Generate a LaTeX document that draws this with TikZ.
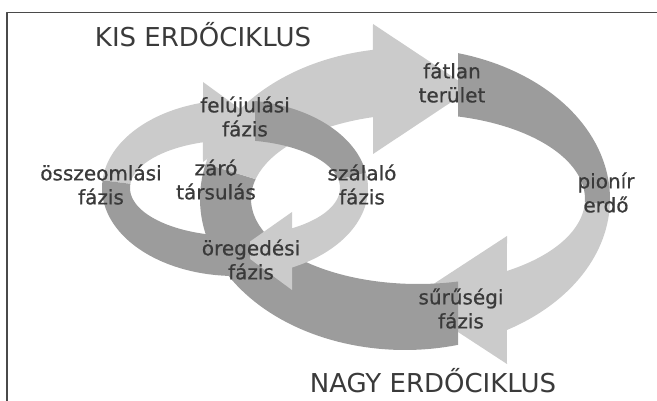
\documentclass[tikz,border=0pt]{standalone}
\usepackage{fontspec}
\setmainfont{DejaVu Sans}
\newfontfamily\phasefont{DejaVu Sans}[FakeBold=0.7]
\definecolor{arclight}{HTML}{CBCBCB}
\definecolor{arcdark}{HTML}{9C9C9C}
\definecolor{labeltext}{HTML}{3A3A3A}
\definecolor{framegray}{HTML}{4A4A4A}

\begin{document}
\begin{tikzpicture}[x=1pt,y=-1pt,line join=round,
  lightarc/.style={fill=arclight},
  darkarc/.style={fill=arcdark},
  phase/.style={align=center,text=labeltext,font=\phasefont\fontsize{20}{24}\selectfont},
  cycletitle/.style={anchor=base,text=labeltext,font=\fontsize{26}{30}\selectfont}]
\useasboundingbox (0,0) rectangle (657,401);
\draw[framegray,line width=1.3pt] (7,401) -- (7,12.5) -- (657,12.5);
\fill[lightarc] plot[domain=362:420.2,samples=40] ({405+205*cos(\x)},{199+151*sin(\x)}) -- (507,364) -- (409,300) -- (507,236) -- plot[domain=417.8:362,samples=40] ({418+167*cos(\x)},{199+85*sin(\x)}) -- cycle;
\fill[darkarc] plot[domain=75:193.5,samples=60] ({405+205*cos(\x)},{199+151*sin(\x)}) -- plot[domain=193.5:76.14,samples=60] ({418+167*cos(\x)},{199+85*sin(\x)}) -- cycle;
\fill[lightarc] plot[domain=193.5:261,samples=40] ({405+205*cos(\x)},{199+151*sin(\x)}) -- (373,24) -- (471,89) -- (373,154) -- plot[domain=254.37:193.5,samples=40] ({418+167*cos(\x)},{199+85*sin(\x)}) -- cycle;
\fill[darkarc] plot[domain=285:362,samples=40] ({405+205*cos(\x)},{199+151*sin(\x)}) -- plot[domain=362:283.86,samples=40] ({418+167*cos(\x)},{199+85*sin(\x)}) -- cycle;
\fill[lightarc] plot[domain=185:256.1,samples=40] ({235+133*cos(\x)},{188+88*sin(\x)}) -- (203,82) -- (258,122) -- (203,162) -- plot[domain=252.25:185,samples=40] ({235+105*cos(\x)},{188+48*sin(\x)}) -- cycle;
\fill[darkarc] plot[domain=278.65:350,samples=40] ({235+133*cos(\x)},{188+88*sin(\x)}) -- plot[domain=350:281,samples=40] ({235+105*cos(\x)},{188+48*sin(\x)}) -- cycle;
\fill[lightarc] plot[domain=350:424.6,samples=40] ({235+133*cos(\x)},{188+88*sin(\x)}) -- (292,290) -- (238,250) -- (292,212) -- plot[domain=417.1:350,samples=40] ({235+105*cos(\x)},{188+48*sin(\x)}) -- cycle;
\fill[darkarc] plot[domain=83.5:185,samples=40] ({235+133*cos(\x)},{188+88*sin(\x)}) -- plot[domain=185:81.8,samples=40] ({235+105*cos(\x)},{188+48*sin(\x)}) -- cycle;
\node[cycletitle] (kis) at (203,47) {KIS ERDŐCIKLUS};
\node[cycletitle] (nagy) at (433,392) {NAGY ERDŐCIKLUS};
\node[phase] (fatlan) at (452,82.5) {fátlan\\terület};
\node[phase] (pionir) at (606,192.5) {pionír\\erdő};
\node[phase] (suruseg) at (461,308.5) {sűrűségi\\fázis};
\node[phase] (szalalo) at (362,184.5) {szálaló\\fázis};
\node[phase] (felujulas) at (245,116.5) {felújulási\\fázis};
\node[phase] (zaro) at (216,179.5) {záró\\társulás};
\node[phase] (osszeomlas) at (101,184.5) {összeomlási\\fázis};
\node[phase] (oregedes) at (251,259.5) {öregedési\\fázis};
\end{tikzpicture}
\end{document}
